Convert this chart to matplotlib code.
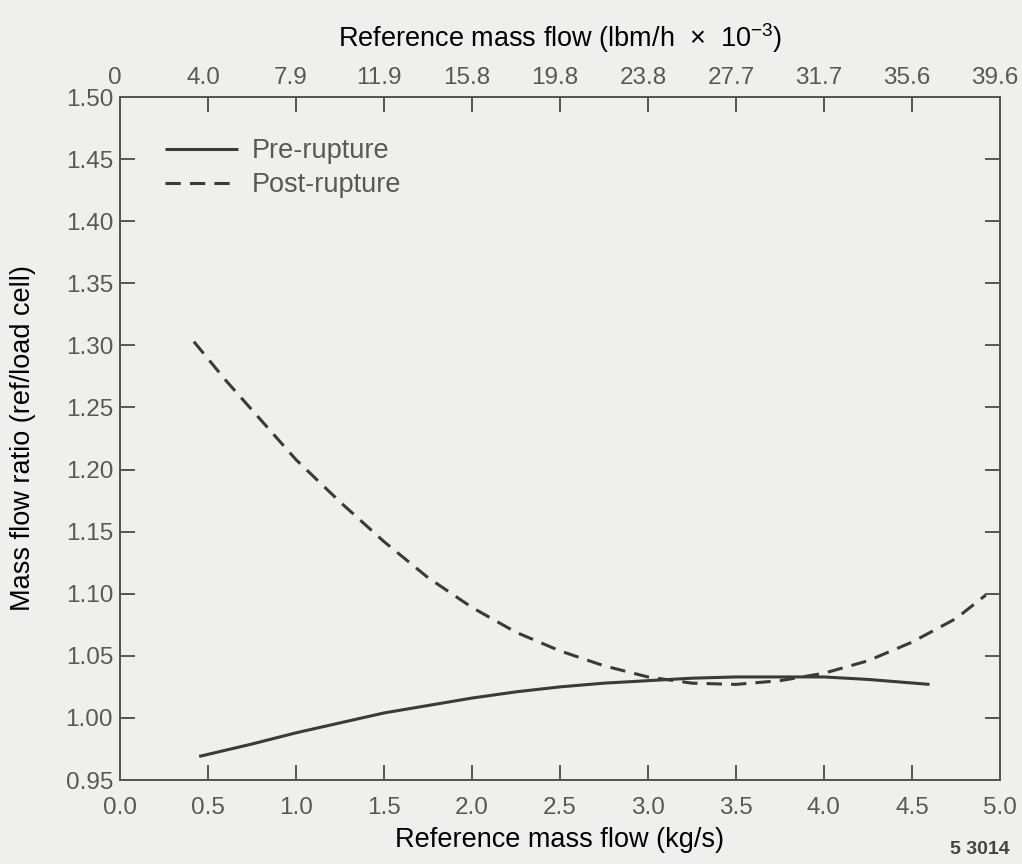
import matplotlib
matplotlib.use("Agg")
import matplotlib.pyplot as plt
from matplotlib.transforms import ScaledTranslation

# ---- data ----
pre_x = [0.45, 0.75, 1.0, 1.25, 1.5, 1.75, 2.0, 2.25, 2.5, 2.75, 3.0, 3.25,
         3.5, 3.75, 4.0, 4.25, 4.6]
pre_y = [0.969, 0.979, 0.988, 0.996, 1.004, 1.010, 1.016, 1.021, 1.025, 1.028,
         1.030, 1.032, 1.033, 1.033, 1.033, 1.031, 1.027]

post_x = [0.42, 0.6, 0.8, 1.0, 1.25, 1.5, 1.75, 2.0, 2.25, 2.5, 2.75, 3.0,
          3.25, 3.5, 3.75, 4.0, 4.25, 4.5, 4.75, 4.92]
post_y = [1.303, 1.272, 1.240, 1.208, 1.174, 1.142, 1.113, 1.089, 1.069, 1.054,
          1.042, 1.033, 1.028, 1.027, 1.030, 1.036, 1.046, 1.061, 1.080, 1.099]

x_ticks = [0.0, 0.5, 1.0, 1.5, 2.0, 2.5, 3.0, 3.5, 4.0, 4.5, 5.0]
x_labels = ["0.0", "0.5", "1.0", "1.5", "2.0", "2.5", "3.0", "3.5", "4.0", "4.5", "5.0"]
top_labels = ["0", "4.0", "7.9", "11.9", "15.8", "19.8", "23.8", "27.7", "31.7", "35.6", "39.6"]
y_ticks = [0.95, 1.00, 1.05, 1.10, 1.15, 1.20, 1.25, 1.30, 1.35, 1.40, 1.45, 1.50]

BG = "#efefed"
INK = "#3a3a3a"
TXT = "#585858"
FS_TICK = 17.5
FS_LAB = 19.5

plt.rcParams.update({
    "font.family": "Liberation Sans", "font.size": FS_TICK,
    "mathtext.fontset": "custom", "mathtext.rm": "Liberation Sans",
    "mathtext.it": "Liberation Sans", "text.color": TXT,
    "axes.edgecolor": "#555555", "axes.linewidth": 1.4,
    "xtick.color": "#555555", "ytick.color": "#555555",
    "xtick.labelcolor": TXT, "ytick.labelcolor": TXT,
})

fig = plt.figure(figsize=(10.22, 8.64), dpi=100, facecolor=BG)
ax = fig.add_axes([0.1174, 0.0972, 0.861, 0.7905], facecolor=BG)

ax.plot(pre_x, pre_y, color=INK, lw=2.2, solid_capstyle="butt", label="Pre-rupture")
ax.plot(post_x, post_y, color=INK, lw=2.2, dashes=(5, 3), dash_capstyle="butt",
        label="Post-rupture")

ax.set_xlim(0, 5.0)
ax.set_ylim(0.95, 1.50)
ax.set_xticks(x_ticks)
ax.set_xticklabels(x_labels)
ax.set_yticks(y_ticks)
ax.set_yticklabels([f"{v:.2f}" for v in y_ticks])
ax.tick_params(axis="x", direction="in", length=11, width=1.4, pad=12)
ax.tick_params(axis="y", direction="in", length=11, width=1.4, pad=5,
               left=True, right=True)

top = ax.twiny()
top.set_xlim(ax.get_xlim())
top.set_xticks(x_ticks)
top.set_xticklabels(top_labels)
top.tick_params(axis="x", direction="in", length=11, width=1.4, pad=6)
shift = ScaledTranslation(-5 / 100, 0, fig.dpi_scale_trans)
for lab in top.get_xticklabels():
    lab.set_transform(lab.get_transform() + shift)
top.set_xlabel("Reference mass flow (lbm/h  $\\times$  10$^{-3}$)",
               fontsize=FS_LAB, labelpad=14)

ax.set_xlabel("Reference mass flow (kg/s)", fontsize=FS_LAB, labelpad=6)
ax.set_ylabel("Mass flow ratio (ref/load cell)", fontsize=FS_LAB)
ax.yaxis.set_label_coords(-0.096, 0.5)

leg = ax.legend(loc="upper left", bbox_to_anchor=(0.051, 0.94), frameon=False,
                fontsize=FS_LAB, handlelength=2.7, handletextpad=0.5,
                labelspacing=0.3, borderpad=0, borderaxespad=0)
for t in leg.get_texts():
    t.set_color(TXT)

fig.text(0.988, 0.007, "5 3014", fontsize=14, fontweight="bold", color="#444444",
         ha="right", va="bottom")

fig.savefig("out.png", dpi=100, facecolor=BG)
